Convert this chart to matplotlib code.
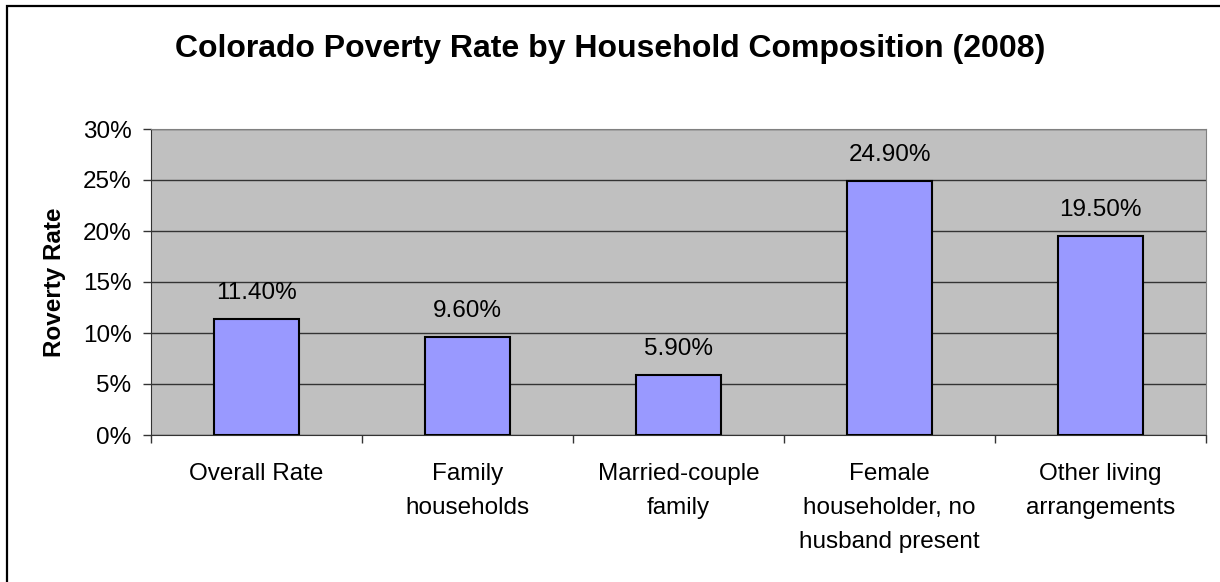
import matplotlib
matplotlib.use("Agg")
import matplotlib.pyplot as plt
from matplotlib.patches import Rectangle
from matplotlib.ticker import FixedLocator, PercentFormatter

categories = ["Overall Rate", "Family\nhouseholds", "Married-couple\nfamily",
              "Female\nhouseholder, no\nhusband present", "Other living\narrangements"]
values = [11.4, 9.6, 5.9, 24.9, 19.5]
labels = ["11.40%", "9.60%", "5.90%", "24.90%", "19.50%"]

plt.rcParams['font.family'] = ['Liberation Sans', 'DejaVu Sans']

W, H = 1220, 582
fig = plt.figure(figsize=(W / 100, H / 100), dpi=100)
fig.patches.append(Rectangle((7 / W, -0.05), 1.2, 1 - 6 / H + 0.05,
                             transform=fig.transFigure, fill=False,
                             edgecolor='black', linewidth=1.6))

ax = fig.add_axes([151 / W, 1 - 435 / H, (1206 - 151) / W, (435 - 129) / H])
ax.set_facecolor('#C0C0C0')
x = list(range(len(categories)))
ax.bar(x, values, width=0.4, color='#9999FF', edgecolor='black', linewidth=1.5, zorder=3)
ax.set_xlim(-0.5, len(categories) - 0.5)
ax.set_ylim(0, 30)
ax.set_yticks([0, 5, 10, 15, 20, 25, 30])
ax.yaxis.set_major_formatter(PercentFormatter(decimals=0))
ax.grid(axis='y', color='#333333', linewidth=1, zorder=1)
ax.set_axisbelow(True)

ax.set_xticks(x)
ax.set_xticklabels(categories, fontsize=17.5, linespacing=1.72)
ax.xaxis.set_minor_locator(FixedLocator([i - 0.5 for i in range(len(categories) + 1)]))
ax.tick_params(axis='x', which='major', length=0, pad=20)
ax.tick_params(axis='x', which='minor', length=6, color='#333333', width=1)
ax.tick_params(axis='y', length=6, color='#333333', width=1, labelsize=17.5, pad=8)

for s in ['top', 'right']:
    ax.spines[s].set_color('#808080')
for s in ['left', 'bottom']:
    ax.spines[s].set_color('#333333')

for xi, v, lab in zip(x, values, labels):
    ax.annotate(lab, (xi, v), xytext=(0, 14.5), textcoords='offset points',
                ha='center', va='baseline', fontsize=17.5)

ax.set_ylabel("Roverty Rate", fontsize=17.5, fontweight='bold')
ax.yaxis.set_label_coords((66 - 151) / (1206 - 151), 0.5)
fig.text(0.5, 1 - 57 / H, "Colorado Poverty Rate by Household Composition (2008)",
         ha='center', va='baseline', fontsize=23, fontweight='bold')

fig.savefig("out.png", dpi=100)
